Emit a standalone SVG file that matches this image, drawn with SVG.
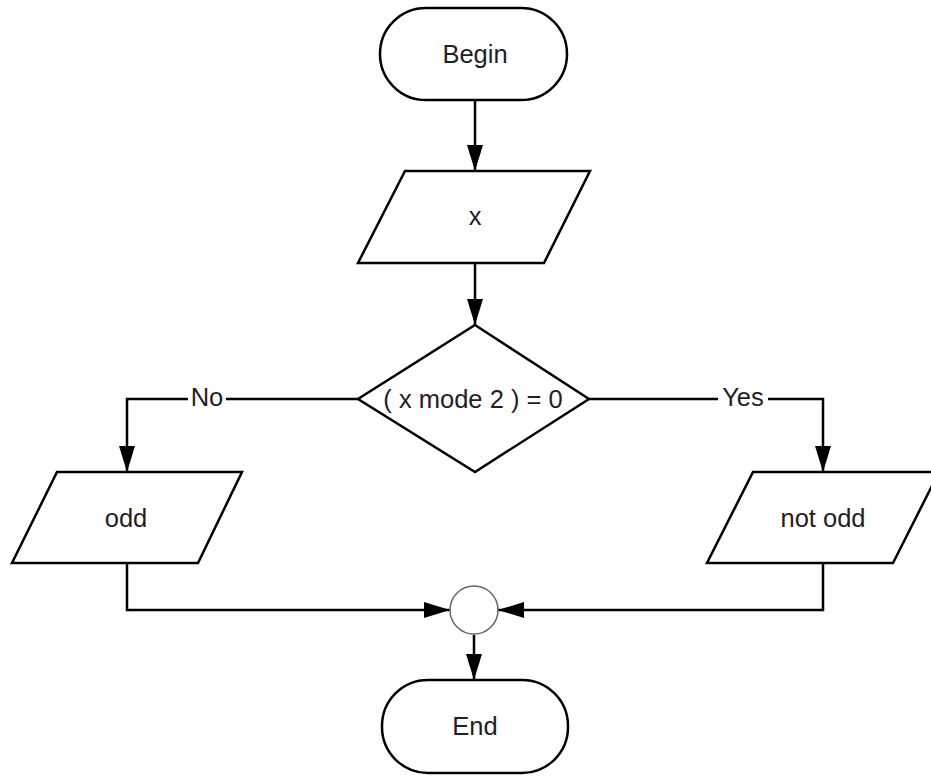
<svg xmlns="http://www.w3.org/2000/svg" width="931" height="776" viewBox="0 0 931 776">
<defs>
<style>
.shape{fill:#fff;stroke:#000;stroke-width:2.5;stroke-linejoin:miter}
.circ{fill:#fff;stroke:#666;stroke-width:1.5}
.conn{fill:none;stroke:#000;stroke-width:2.5;marker-end:url(#arr)}
.t{font-family:"Liberation Sans",Arial,sans-serif;font-size:25.5px;fill:#1e1e28;text-anchor:middle}
.lbl{fill:#fff;stroke:none}
</style>
<marker id="arr" markerUnits="userSpaceOnUse" markerWidth="26" markerHeight="16" refX="26" refY="8" orient="auto">
<path d="M0,0 L26,8 L0,16 Z" fill="#000"/>
</marker>
</defs>
<rect width="931" height="776" fill="#fff"/>
<g id="connectors">
<path class="conn" d="M475,100 L475,171"/>
<path class="conn" d="M475,263 L475,325"/>
<path class="conn" d="M358,399 L127,399 L127,472"/>
<path class="conn" d="M589,399 L823,399 L823,472"/>
<path class="conn" d="M127,563 L127,610 L450,610"/>
<path class="conn" d="M823,563 L823,610 L498,610"/>
<path class="conn" d="M474,635 L474,680"/>
<rect class="lbl" x="188" y="385" width="38" height="26"/>
<text class="t" x="207" y="406">No</text>
<rect class="lbl" x="718" y="385" width="50" height="26"/>
<text class="t" x="743" y="406">Yes</text>
</g>
<g id="begin">
<rect class="shape" x="380" y="8" width="187" height="92" rx="46" ry="46"/>
<text class="t" x="475" y="63">Begin</text>
</g>
<g id="input-x">
<polygon class="shape" points="405,171 590,171 544,263 358,263"/>
<text class="t" x="475" y="225">x</text>
</g>
<g id="decision">
<polygon class="shape" points="475,325 589,399 475,472 358,399"/>
<text class="t" x="473" y="408">( x mode 2 ) = 0</text>
</g>
<g id="odd">
<polygon class="shape" points="57,472 242,472 198,563 12,563"/>
<text class="t" x="126" y="527">odd</text>
</g>
<g id="not-odd">
<polygon class="shape" points="753,472 939,472 893,563 707,563"/>
<text class="t" x="823" y="527">not odd</text>
</g>
<g id="join">
<circle class="circ" cx="474" cy="610" r="24"/>
</g>
<g id="end">
<rect class="shape" x="382" y="680" width="186" height="93" rx="46" ry="46"/>
<text class="t" x="475" y="735">End</text>
</g>
</svg>
